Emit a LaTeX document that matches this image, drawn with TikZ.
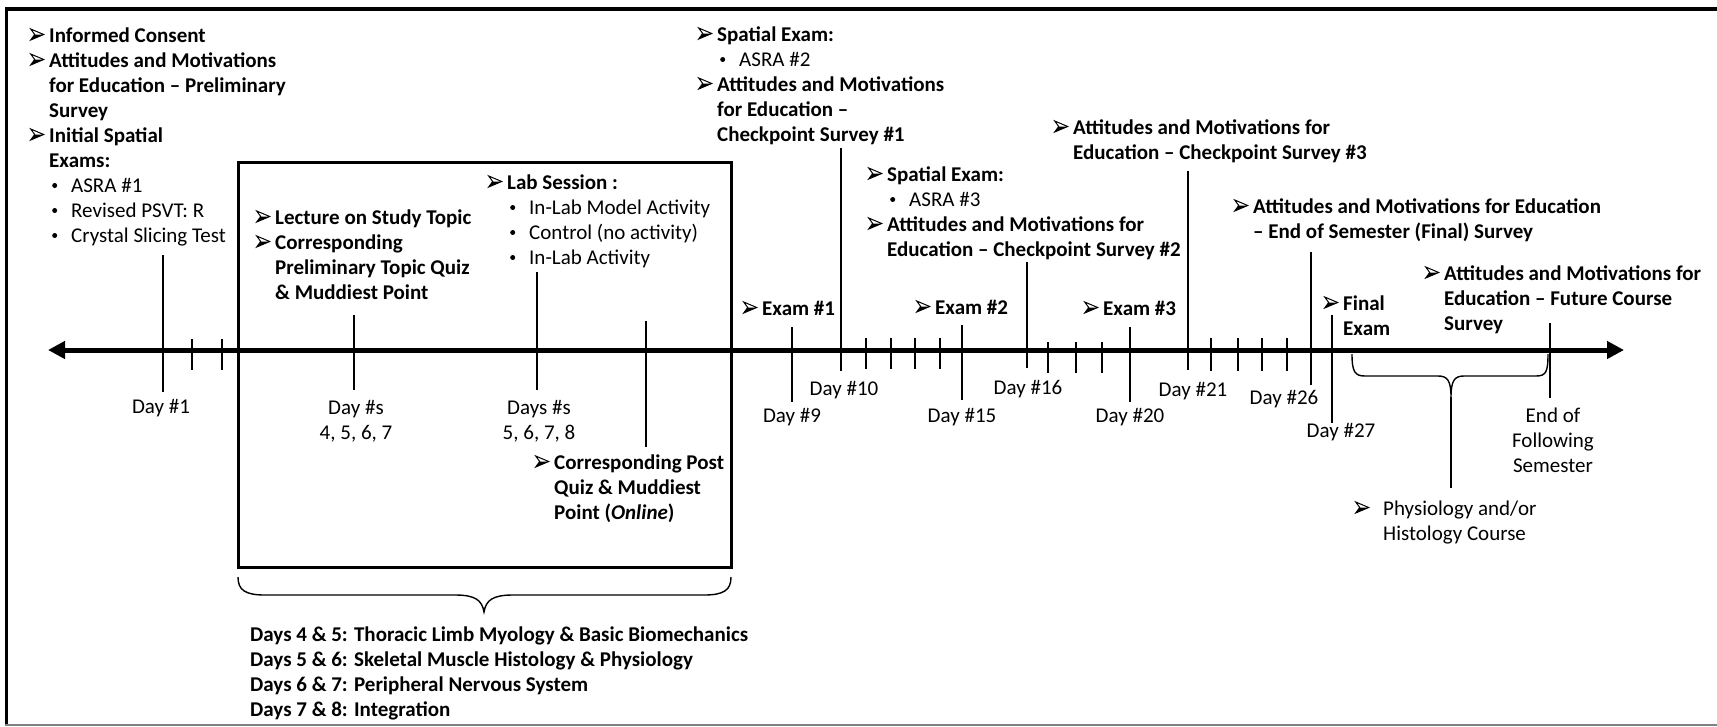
\documentclass[tikz,border=0pt]{standalone}
\usepackage{fontspec}
\setmainfont{Carlito}
\usetikzlibrary{arrows.meta}

% list markers: a shaded arrowhead and a small round bullet
\newcommand\arrowg{\tikz[x=1pt,y=1pt,baseline=-2pt,line join=miter]{%
  \fill[white] (0,11) -- (13,5.5) -- (4,5.5) -- cycle;
  \fill[black] (0,0) -- (13,5.5) -- (4,5.5) -- cycle;
  \draw[line width=1pt] (0,11) -- (13,5.5) -- (0,0) -- (4,5.5) -- cycle;}}
\newcommand\bdot{\tikz[x=1pt,y=1pt,baseline=-6.5pt]\fill (0,0) circle (2.5pt);}
\newcommand\hd[1]{\makebox[19pt][l]{\arrowg}\textbf{#1}}
\newcommand\ct[1]{\hspace*{19pt}\textbf{#1}}
\newcommand\bl[1]{\hspace*{22pt}\makebox[19pt][l]{\bdot}#1}
\newcommand\blk[1]{\begin{tabular}[t]{@{}l@{}}#1\end{tabular}}
\newcommand\cblk[1]{\begin{tabular}[t]{@{}c@{}}#1\end{tabular}}

\begin{document}
\begin{tikzpicture}[x=1pt,y=-1pt,
  txt/.style={inner sep=0pt,anchor=base west,font=\fontsize{21}{25}\selectfont},
  lbl/.style={inner sep=0pt,anchor=base,font=\fontsize{21}{25}\selectfont},
  tick/.style={line width=2.5pt},
  axis/.style={line width=5pt,{Triangle[length=17pt,width=17pt]}-{Triangle[length=17pt,width=17pt]}},
  brace/.style={line width=1.4pt}]
\useasboundingbox (0,0) rectangle (1717,726);

% frame
\draw[line width=3.5pt] (1717,9) -- (6.5,9) -- (6.5,726);
\draw[gray,line width=2pt] (5,725) -- (1717,725);

% timeline axis
\coordinate (axL) at (48,350);
\coordinate (axR) at (1624,350);
\draw[axis] (axL) -- (axR);

% study-topic box and its brace
\draw[line width=3pt] (238,162) rectangle (731,567);
\draw[brace] (238,577) .. controls (238,590) and (245,595) .. (265,595) -- (455,595)
  .. controls (475,595) and (482,600) .. (484,612)
  .. controls (486,600) and (493,595) .. (513,595) -- (704,595)
  .. controls (724,595) and (731,590) .. (731,577);

% ticks: x, top, bottom
\foreach \x/\t/\b in {163/255/392, 192/339/370, 222/339/370, 354/315/390, 537/272/390,
  646/321/447, 792/327/402, 841/148/371, 866/338/369, 891/338/369, 915/338/369, 940/338/369,
  962/325/400, 1027/262/368, 1048/342/373, 1076/342/373, 1102/342/373, 1130/327/402,
  1188/171/370, 1211/338/371, 1238/338/371, 1262/338/371, 1287/338/371, 1311/252/385,
  1332/315/423, 1550/323/398}
  \draw[tick] (\x,\t) -- (\x,\b);

% brace for the following semester
\coordinate (brTip) at (1451,397);
\coordinate (physTop) at (1451,488);
\draw[brace] (1352,354) .. controls (1352,372) and (1355,376) .. (1365,376) -- (1438,376)
  .. controls (1447,376) and (1451,380) .. (brTip)
  .. controls (1451,380) and (1455,376) .. (1464,376) -- (1536,376)
  .. controls (1546,376) and (1548,372) .. (1548,354);
\draw[tick] (brTip) -- (physTop);

% event texts
\node[txt] (initial) at (30,42) {\blk{\hd{Informed Consent}\\
  \hd{Attitudes and Motivations}\\
  \ct{for Education – Preliminary}\\
  \ct{Survey}\\
  \hd{Initial Spatial}\\
  \ct{Exams:}\\
  \bl{ASRA \#1}\\
  \bl{Revised PSVT: R}\\
  \bl{Crystal Slicing Test}}};

\node[txt] (lecture) at (256,224) {\blk{\hd{Lecture on Study Topic}\\
  \hd{Corresponding}\\
  \ct{Preliminary Topic Quiz}\\
  \ct{\& Muddiest Point}}};

\node[txt] (lab) at (488,189) {\blk{\hd{Lab Session :}\\
  \bl{In-Lab Model Activity}\\
  \bl{Control (no activity)}\\
  \bl{In-Lab Activity}}};

\node[txt] (post) at (535,469) {\blk{\hd{Corresponding Post}\\
  \ct{Quiz \& Muddiest}\\
  \ct{Point (\textit{Online})}}};

\node[txt] (spatial2) at (698,41) {\blk{\hd{Spatial Exam:}\\
  \bl{ASRA \#2}\\
  \hd{Attitudes and Motivations}\\
  \ct{for Education –}\\
  \ct{Checkpoint Survey \#1}}};

\node[txt] (exam1) at (743,315) {\hd{Exam \#1}};
\node[txt] (exam2) at (916,314) {\hd{Exam \#2}};
\node[txt] (exam3) at (1084,315) {\hd{Exam \#3}};

\node[txt] (spatial3) at (868,181) {\blk{\hd{Spatial Exam:}\\
  \bl{ASRA \#3}\\
  \hd{Attitudes and Motivations for}\\
  \ct{Education – Checkpoint Survey \#2}}};

\node[txt] (check3) at (1054,134) {\blk{\hd{Attitudes and Motivations for}\\
  \ct{Education – Checkpoint Survey \#3}}};

\node[txt] (endsem) at (1234,213) {\blk{\hd{Attitudes and Motivations for Education}\\
  \ct{– End of Semester (Final) Survey}}};

\node[txt] (final) at (1324,310) {\blk{\hd{Final}\\ \ct{Exam}}};

\node[txt] (future) at (1425,280) {\blk{\hd{Attitudes and Motivations for}\\
  \ct{Education – Future Course}\\
  \ct{Survey}}};

\node[txt] (phys) at (1355,515) {\blk{\makebox[28pt][l]{\arrowg}Physiology and/or\\
  \hspace*{28pt}Histology Course}};

\node[txt] (topics) at (250,641) {\blk{\textbf{Days 4 \& 5: Thoracic Limb Myology \& Basic Biomechanics}\\
  \textbf{Days 5 \& 6: Skeletal Muscle Histology \& Physiology}\\
  \textbf{Days 6 \& 7: Peripheral Nervous System}\\
  \textbf{Days 7 \& 8: Integration}}};

% day labels
\node[lbl] (d1) at (161,413) {Day \#1};
\node[lbl] (d4) at (356,414) {\cblk{Day \#s\\ 4, 5, 6, 7}};
\node[lbl] (d5) at (539,414) {\cblk{Days \#s\\ 5, 6, 7, 8}};
\node[lbl] (d9) at (792,422) {Day \#9};
\node[lbl] (d10) at (844,395) {Day \#10};
\node[lbl] (d15) at (962,422) {Day \#15};
\node[lbl] (d16) at (1028,394) {Day \#16};
\node[lbl] (d20) at (1130,422) {Day \#20};
\node[lbl] (d21) at (1193,396) {Day \#21};
\node[lbl] (d26) at (1284,404) {Day \#26};
\node[lbl] (d27) at (1341,437) {Day \#27};
\node[lbl] (dend) at (1553,422) {\cblk{End of\\ Following\\ Semester}};
\end{tikzpicture}
\end{document}
